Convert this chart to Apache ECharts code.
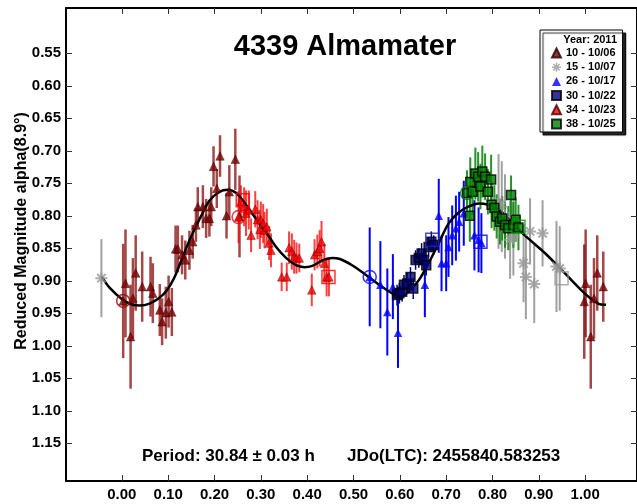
<!DOCTYPE html>
<html>
<head>
<meta charset="utf-8">
<script src="https://cdn.jsdelivr.net/npm/echarts@6/dist/echarts.min.js"></script>
<style>
  html, body { margin: 0; padding: 0; background: #fff; }
  #chart { width: 637px; height: 504px; }
</style>
</head>
<body>
<div id="chart"></div>
<script>
// Fourier fit of the lightcurve (phase, reduced magnitude)
const curvePhase = [-0.043, -0.026, 0.000, 0.020, 0.039, 0.060, 0.080, 0.097, 0.112, 0.125, 0.146, 0.168, 0.189, 0.211, 0.228, 0.247, 0.269, 0.290, 0.312, 0.333, 0.355, 0.376, 0.394, 0.411, 0.432, 0.454, 0.469, 0.497, 0.527, 0.555, 0.583, 0.602, 0.619, 0.641, 0.662, 0.684, 0.705, 0.727, 0.748, 0.770, 0.791, 0.813, 0.841, 0.871, 0.914, 0.957, 1.000, 1.028, 1.045];
const curveMag   = [0.894, 0.911, 0.928, 0.936, 0.938, 0.935, 0.927, 0.915, 0.897, 0.875, 0.838, 0.805, 0.777, 0.763, 0.760, 0.765, 0.784, 0.805, 0.826, 0.848, 0.865, 0.876, 0.879, 0.877, 0.869, 0.865, 0.866, 0.876, 0.891, 0.906, 0.919, 0.923, 0.917, 0.899, 0.873, 0.842, 0.812, 0.795, 0.786, 0.781, 0.783, 0.790, 0.810, 0.831, 0.858, 0.889, 0.920, 0.935, 0.937];

// Session 10 - 10/06
const s10Phase = [0.003, 0.008, 0.019, 0.024, 0.030, 0.044, 0.062, 0.067, 0.082, 0.087, 0.095, 0.101, 0.108, 0.116, 0.121, 0.130, 0.137, 0.146, 0.153, 0.160, 0.164, 0.175, 0.182, 0.189, 0.193, 0.198, 0.205, 0.212, 0.226, 0.232, 0.245, 0.254, 0.998, 1.001, 1.012, 1.019, 1.026, 1.039];
const s10Mag   = [0.931, 0.904, 0.986, 0.927, 0.888, 0.909, 0.909, 0.919, 0.945, 0.963, 0.949, 0.932, 0.948, 0.851, 0.851, 0.860, 0.868, 0.853, 0.840, 0.814, 0.786, 0.786, 0.804, 0.804, 0.786, 0.724, 0.758, 0.708, 0.800, 0.763, 0.713, 0.801, 0.932, 0.904, 0.986, 0.927, 0.888, 0.909];
const s10Err   = [0.088, 0.083, 0.080, 0.062, 0.058, 0.054, 0.046, 0.046, 0.040, 0.036, 0.040, 0.040, 0.037, 0.036, 0.036, 0.030, 0.030, 0.030, 0.026, 0.026, 0.030, 0.033, 0.030, 0.028, 0.030, 0.031, 0.030, 0.032, 0.035, 0.041, 0.047, 0.063, 0.088, 0.083, 0.080, 0.062, 0.058, 0.054];

// Session 15 - 10/07
const s15Phase = [-0.044, 0.813, 0.820, 0.827, 0.838, 0.845, 0.867, 0.872, 0.881, 0.890, 0.908, 0.938, 0.945];
const s15Mag   = [0.896, 0.778, 0.786, 0.801, 0.837, 0.832, 0.873, 0.894, 0.824, 0.905, 0.827, 0.878, 0.881];
const s15Err   = [0.060, 0.073, 0.070, 0.065, 0.060, 0.060, 0.060, 0.065, 0.051, 0.060, 0.051, 0.070, 0.065];

// Session 26 - 10/17
const s26Phase = [0.535, 0.558, 0.573, 0.585, 0.596, 0.654, 0.684, 0.690, 0.700, 0.705, 0.713, 0.721, 0.728, 0.738, 0.761, 0.770, 0.776];
const s26Mag   = [0.894, 0.906, 0.948, 0.909, 0.980, 0.906, 0.800, 0.873, 0.873, 0.848, 0.830, 0.819, 0.809, 0.796, 0.830, 0.837, 0.842];
const s26Err   = [0.076, 0.067, 0.067, 0.050, 0.054, 0.050, 0.057, 0.043, 0.043, 0.046, 0.046, 0.050, 0.046, 0.050, 0.054, 0.050, 0.046];

// Session 30 - 10/22
const s30Phase = [0.594, 0.599, 0.605, 0.609, 0.616, 0.623, 0.629, 0.634, 0.641, 0.647, 0.652, 0.657, 0.662, 0.668, 0.673];
const s30Mag   = [0.922, 0.919, 0.917, 0.906, 0.904, 0.894, 0.912, 0.868, 0.865, 0.858, 0.868, 0.876, 0.848, 0.840, 0.845];
const s30Err   = [0.016, 0.016, 0.015, 0.015, 0.016, 0.015, 0.016, 0.015, 0.015, 0.016, 0.015, 0.016, 0.015, 0.016, 0.015];

// Session 34 - 10/23
const s34Phase = [0.252, 0.257, 0.264, 0.268, 0.274, 0.279, 0.288, 0.293, 0.298, 0.300, 0.305, 0.308, 0.313, 0.318, 0.322, 0.345, 0.356, 0.361, 0.367, 0.372, 0.377, 0.383, 0.410, 0.416, 0.422, 0.427, 0.431, 0.437, 0.442, 0.447];
const s34Mag   = [0.802, 0.778, 0.786, 0.796, 0.791, 0.830, 0.790, 0.806, 0.821, 0.806, 0.812, 0.822, 0.817, 0.842, 0.853, 0.894, 0.894, 0.849, 0.855, 0.863, 0.865, 0.865, 0.914, 0.860, 0.855, 0.850, 0.840, 0.873, 0.894, 0.894];
const s34Err   = [0.040, 0.025, 0.030, 0.035, 0.030, 0.026, 0.028, 0.030, 0.030, 0.028, 0.030, 0.028, 0.028, 0.026, 0.026, 0.022, 0.022, 0.025, 0.028, 0.026, 0.024, 0.022, 0.025, 0.024, 0.026, 0.028, 0.032, 0.030, 0.030, 0.030];

// Session 38 - 10/25
const s38Phase = [0.745, 0.751, 0.752, 0.757, 0.763, 0.769, 0.774, 0.778, 0.784, 0.790, 0.797, 0.798, 0.804, 0.809, 0.816, 0.821, 0.827, 0.834, 0.840, 0.845, 0.850, 0.856];
const s38Mag   = [0.765, 0.800, 0.748, 0.763, 0.735, 0.740, 0.755, 0.732, 0.740, 0.763, 0.744, 0.783, 0.788, 0.801, 0.809, 0.804, 0.814, 0.819, 0.768, 0.814, 0.806, 0.818];
const s38Err   = [0.035, 0.040, 0.038, 0.035, 0.040, 0.038, 0.035, 0.040, 0.036, 0.035, 0.038, 0.036, 0.035, 0.034, 0.035, 0.034, 0.035, 0.034, 0.030, 0.035, 0.034, 0.035];

// First (circle) and last (square) observations of sessions
const s10Circle  = [0.003, 0.931];
const s34Circle  = [0.252, 0.802];
const s26Circle  = [0.535, 0.894];
const s38Circle  = [0.745, 0.765];
const s34Squares = [[0.261, 0.776], [0.446, 0.894]];
const s30Square  = [0.670, 0.837];
const s26Square  = [0.774, 0.840];
const s38Square  = [0.856, 0.817];
const s15Square  = [0.949, 0.896];

const xTicks = [0.0, 0.1, 0.2, 0.3, 0.4, 0.5, 0.6, 0.7, 0.8, 0.9, 1.0];
const yTicks = [0.55, 0.60, 0.65, 0.70, 0.75, 0.80, 0.85, 0.90, 0.95, 1.00, 1.05, 1.10, 1.15];
const sessionNames = ['10 - 10/06', '15 - 10/07', '26 - 10/17', '30 - 10/22', '34 - 10/23', '38 - 10/25'];

const FONT = '"Liberation Sans", Arial, sans-serif';
// eight-armed star marker built from four overlapping bars
const ASTERISK = 'path://M0 8.3L20 8.3L20 11.7L0 11.7Z M8.3 0L11.7 0L11.7 20L8.3 20Z M4.2 1.8L18.2 15.8L15.8 18.2L1.8 4.2Z M18.2 4.2L4.2 18.2L1.8 15.8L15.8 1.8Z';

function zip(p, m, e) {
  return p.map((v, i) => e ? [v, m[i], e[i]] : [v, m[i]]);
}

function errorBars(p, m, e, color, width) {
  return {
    type: 'custom',
    silent: true,
    z: 1,
    data: zip(p, m, e),
    encode: { x: 0, y: 1 },
    renderItem: function (params, api) {
      const x = api.value(0), y = api.value(1), d = api.value(2);
      const a = api.coord([x, y - d]);
      const b = api.coord([x, y + d]);
      return {
        type: 'line',
        shape: { x1: a[0], y1: a[1], x2: b[0], y2: b[1] },
        style: { stroke: color, lineWidth: width }
      };
    }
  };
}

function points(name, p, m, symbol, size, style) {
  return {
    name: name,
    type: 'scatter',
    z: 3,
    symbol: symbol,
    symbolSize: size,
    data: zip(p, m),
    itemStyle: style,
    silent: true
  };
}

function openMarks(list, symbol, color) {
  return {
    type: 'scatter',
    z: 4,
    symbol: symbol,
    symbolSize: 13,
    data: list,
    silent: true,
    itemStyle: { color: 'rgba(0,0,0,0)', borderColor: color, borderWidth: 1.5 }
  };
}

const axisCommon = {
  type: 'value',
  axisLine: { show: true, onZero: false, lineStyle: { color: '#000', width: 2 } },
  splitLine: { show: false }
};

const chart = echarts.init(document.getElementById('chart'), null, { renderer: 'canvas' });

chart.setOption({
  animation: false,
  backgroundColor: '#fff',
  grid: { left: 66, top: 8, width: 573, height: 473 },
  xAxis: [
    Object.assign({}, axisCommon, {
      min: -0.1204, max: 1.1118, position: 'bottom',
      axisTick: { show: true, inside: true, length: 6, customValues: xTicks, lineStyle: { color: '#333' } },
      axisLabel: { show: true, customValues: xTicks, margin: 6, formatter: v => v.toFixed(2),
        fontFamily: FONT, fontWeight: 'bold', fontSize: 15, color: '#000' }
    }),
    Object.assign({}, axisCommon, {
      min: -0.1204, max: 1.1118, position: 'top',
      axisTick: { show: true, inside: true, length: 6, customValues: xTicks, lineStyle: { color: '#333' } },
      axisLabel: { show: false }
    })
  ],
  yAxis: [
    Object.assign({}, axisCommon, {
      min: 0.4803, max: 1.208, inverse: true, position: 'left',
      axisTick: { show: true, inside: true, length: 6, customValues: yTicks, lineStyle: { color: '#333' } },
      axisLabel: { show: true, customValues: yTicks, margin: 5, formatter: v => v.toFixed(2),
        fontFamily: FONT, fontWeight: 'bold', fontSize: 15, color: '#000' }
    }),
    Object.assign({}, axisCommon, {
      min: 0.4803, max: 1.208, inverse: true, position: 'right',
      axisTick: { show: true, inside: true, length: 6, customValues: yTicks, lineStyle: { color: '#333' } },
      axisLabel: { show: false }
    })
  ],
  legend: {
    data: sessionNames,
    orient: 'vertical',
    left: 540,
    top: 30,
    padding: [17, 7, 2, 11],
    itemWidth: 9,
    itemHeight: 9,
    itemGap: 2.2,
    selectedMode: false,
    backgroundColor: '#fff',
    borderColor: '#000',
    borderWidth: 1,
    shadowColor: 'rgba(0,0,0,0.85)',
    shadowBlur: 1,
    shadowOffsetX: 3,
    shadowOffsetY: 3,
    textStyle: { fontFamily: FONT, fontWeight: 'bold', fontSize: 11, color: '#000', lineHeight: 12 }
  },
  graphic: [
    { type: 'text', x: 345, y: 47, z: 10,
      style: { text: '4339 Almamater', fontFamily: FONT, fontWeight: 'bold', fontSize: 29, fill: '#000',
        align: 'center', verticalAlign: 'middle', textAlign: 'center', textVerticalAlign: 'middle' } },
    { type: 'text', x: 617, y: 40, z: 10,
      style: { text: 'Year: 2011', fontFamily: FONT, fontWeight: 'bold', fontSize: 11, fill: '#000',
        align: 'right', verticalAlign: 'middle', textAlign: 'right', textVerticalAlign: 'middle' } },
    { type: 'text', x: 22, y: 231, rotation: Math.PI / 2, z: 10,
      style: { text: 'Reduced Magnitude alpha(8.9°)', fontFamily: FONT, fontWeight: 'bold', fontSize: 16, fill: '#000',
        align: 'center', verticalAlign: 'middle', textAlign: 'center', textVerticalAlign: 'middle' } },
    { type: 'text', x: 142, y: 456, z: 10,
      style: { text: 'Period: 30.84 ± 0.03 h', fontFamily: FONT, fontWeight: 'bold', fontSize: 17, fill: '#000',
        align: 'left', verticalAlign: 'middle', textAlign: 'left', textVerticalAlign: 'middle' } },
    { type: 'text', x: 347, y: 456, z: 10,
      style: { text: 'JDo(LTC): 2455840.583253', fontFamily: FONT, fontWeight: 'bold', fontSize: 17, fill: '#000',
        align: 'left', verticalAlign: 'middle', textAlign: 'left', textVerticalAlign: 'middle' } }
  ],
  series: [
    errorBars(s10Phase, s10Mag, s10Err, 'rgba(128,0,0,0.72)', 2.5),
    errorBars(s15Phase, s15Mag, s15Err, 'rgba(150,150,150,0.9)', 2),
    errorBars(s26Phase, s26Mag, s26Err, '#0000ff', 2),
    errorBars(s30Phase, s30Mag, s30Err, '#000080', 1.5),
    errorBars(s34Phase, s34Mag, s34Err, 'rgba(255,0,0,0.75)', 2),
    errorBars(s38Phase, s38Mag, s38Err, 'rgba(0,128,0,0.85)', 2),
    {
      type: 'line',
      z: 2,
      silent: true,
      smooth: 0.3,
      showSymbol: false,
      data: zip(curvePhase, curveMag),
      lineStyle: { color: '#000', width: 2.5 }
    },
    points(sessionNames[0], s10Phase, s10Mag, 'triangle', 8.5, { color: '#800000', borderColor: '#200', borderWidth: 0.5 }),
    points(sessionNames[1], s15Phase, s15Mag, ASTERISK, 12, { color: '#999999' }),
    points(sessionNames[2], s26Phase, s26Mag, 'triangle', 8.5, { color: '#0000ff' }),
    points(sessionNames[3], s30Phase, s30Mag, 'rect', 9, { color: '#000080', borderColor: '#000', borderWidth: 1.5 }),
    points(sessionNames[4], s34Phase, s34Mag, 'triangle', 8.5, { color: '#ff0000', borderColor: '#400', borderWidth: 0.5 }),
    points(sessionNames[5], s38Phase, s38Mag, 'rect', 9, { color: '#008000', borderColor: '#000', borderWidth: 1.5 }),
    openMarks([s10Circle], 'circle', '#a00000'),
    openMarks([s34Circle], 'circle', '#ff0000'),
    openMarks([s26Circle], 'circle', '#0000ff'),
    openMarks([s38Circle], 'circle', '#008000'),
    openMarks(s34Squares, 'rect', '#ff0000'),
    openMarks([s30Square], 'rect', '#2020c0'),
    openMarks([s26Square], 'rect', '#0000ff'),
    openMarks([s38Square], 'rect', '#00a000'),
    openMarks([s15Square], 'rect', '#999999')
  ]
});
</script>
</body>
</html>
